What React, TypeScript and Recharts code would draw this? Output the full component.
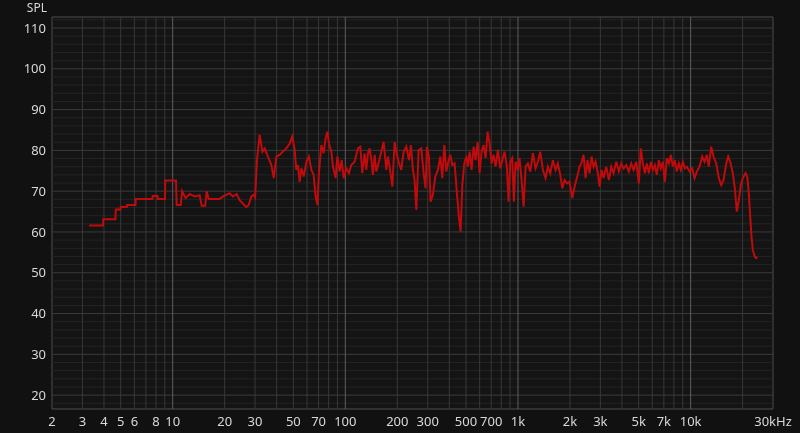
import React from "react";
import { LineChart, Line, XAxis, YAxis, ReferenceLine, ReferenceArea } from "recharts";

const freqs = [
  3.28, 3.95, 3.96, 4.66, 4.68, 4.99, 5.0, 5.43, 5.45, 6.09, 6.11, 7.64, 7.66, 8.17, 8.19, 9.03, 9.05, 10.45,
  10.55, 11.13, 11.35, 11.89, 12.54, 13.41, 14.33, 14.72, 15.43, 15.74, 16.16, 18.71, 19.56, 21.38, 22.35, 23.48,
  24.43, 26.72, 27.55, 28.56, 29.44, 30.04, 30.77, 31.89,
  33.1, 34.1, 35.6, 37.3, 38.5, 39.9, 41.6, 43.5, 45.5, 47.6, 49.3, 50.9, 52.0, 53.1, 54.4, 55.6, 57.4, 59.5,
  61.5, 63.6, 65.5, 67.3, 68.9, 70.3, 72.6, 74.9, 76.9, 78.7, 80.4, 83.0, 84.8, 87.9, 89.9, 92.7, 95.2, 97.8,
  101.3, 104.9, 108.3, 113.2, 118.3, 122.1, 125.4, 129.3, 132.3, 135.2, 138.3, 141.5, 144.5, 147.8, 151.2,
  156.5, 161.6, 166.7, 172.8, 176.5, 180.5, 187.2, 193.0, 197.4, 203.5, 211.0, 217.6, 225.6, 233.6, 239.9, 246.4,
  251.9, 257.7, 265.7, 275.5, 284.1, 291.7, 296.8, 304.9, 311.8, 321.5, 332.0, 343.8, 354.9, 364.5, 374.4,
  384.5, 394.9, 405.5, 416.5, 429.5, 442.9, 454.9, 465.3, 476.0, 488.7, 501.9, 512.8, 524.4, 538.6, 553.2,
  568.1, 583.5, 599.3, 615.5, 632.2, 649.3, 666.8, 684.9, 703.4, 722.4, 741.9, 764.9, 789.8, 811.2, 836.4,
  862.4, 882.2, 902.4, 926.8, 946.8, 968.5, 994.7, 1021, 1049, 1078, 1107, 1141, 1178, 1220, 1265, 1304, 1346,
  1394, 1445, 1490, 1538, 1593, 1651, 1702, 1758, 1806, 1861, 1919, 1990, 2063, 2127, 2193, 2273,
  2326, 2398, 2463, 2530, 2598, 2669, 2741, 2815, 2902, 2969, 3049, 3131, 3246, 3360, 3469, 3578, 3709, 3840,
  3965, 4089, 4238, 4388, 4531, 4672, 4842, 5013, 5148, 5288, 5430, 5576, 5728, 5883, 6042, 6204, 6372, 6545,
  6722, 6904, 7090, 7282, 7479, 7682, 7889, 8102, 8322, 8546, 8778, 9015, 9257, 9507, 9854, 10214, 10534,
  10862, 11259, 11672, 12035, 12410, 12745, 13160, 13570, 14067, 14565, 15040, 15508, 16075, 16510, 16956,
  17556, 18031, 18519, 19018, 19532, 20060, 20796, 21275, 21730, 22140, 22530, 22925, 23535, 23979, 24303,
];

const spl = [
  61.6, 61.6, 63.1, 63.1, 65.5, 65.5, 66.1, 66.1, 66.6, 66.6, 68.1, 68.1, 68.8, 68.8, 68.1, 68.1, 72.6, 72.6,
  66.6, 66.6, 70.0, 68.3, 69.3, 68.7, 69.0, 66.4, 66.4, 70.0, 68.1, 68.1, 68.7, 69.5, 68.7, 69.3,
  67.8, 66.1, 66.6, 68.7, 69.1, 68.5, 77.6, 83.8,
  79.7, 80.5, 78.5, 76.4, 73.2, 78.5, 78.9, 79.7, 80.5, 81.7, 83.4, 80.1, 75.2, 76.4, 72.3, 75.6, 73.6, 77.2,
  78.5, 75.2, 74.0, 68.7, 66.6, 74.4, 81.3, 79.3, 83.0, 84.6, 81.7, 79.7, 76.0, 73.2, 78.5, 74.8, 77.6, 73.2,
  75.6, 74.4, 76.4, 77.2, 80.5, 80.9, 74.4, 79.3, 75.2, 79.3, 80.5, 77.6, 74.0, 78.9, 74.8,
  77.2, 79.7, 82.1, 75.2, 78.5, 76.0, 71.1, 82.1, 79.7, 77.2, 75.2, 79.7, 80.9, 77.6, 81.3, 75.2,
  72.7, 65.4, 80.1, 80.5, 74.4, 70.7, 80.9, 78.5, 67.4, 69.1, 73.6, 75.2, 78.5, 73.2, 81.3,
  74.8, 77.2, 78.9, 76.4, 76.8, 69.5, 63.7, 60.1, 71.5, 76.8, 78.5, 76.0, 79.7, 75.2, 80.9,
  77.6, 82.1, 74.4, 79.7, 81.3, 78.1, 84.6, 81.7, 76.8, 78.9, 76.0, 80.1, 75.6, 77.6, 79.7,
  76.0, 67.4, 77.2, 78.1, 67.4, 77.2, 75.2, 78.1, 72.7, 66.2, 76.0, 76.8, 74.8, 79.3, 75.6, 77.2, 79.7,
  75.2, 73.2, 76.0, 74.4, 77.6, 75.2, 76.8, 74.0, 70.7, 72.7, 71.9, 72.3, 68.3, 71.1, 73.2, 76.0,
  76.8, 78.9, 73.2, 77.6, 74.4, 78.5, 76.0, 77.2, 74.4, 71.1, 75.2, 73.2, 76.0, 72.7, 76.0, 74.4, 77.2, 74.8,
  76.8, 75.6, 76.4, 74.8, 76.8, 75.2, 77.2, 71.9, 80.5, 76.8, 74.4, 76.8, 74.4, 77.2, 75.2, 76.4, 74.0, 77.6,
  75.6, 77.2, 72.3, 78.1, 76.8, 78.9, 76.0, 77.6, 74.8, 76.8, 75.2, 77.2, 75.6, 76.0, 74.8, 75.6, 73.2,
  74.8, 76.0, 78.5, 77.2, 78.9, 76.0, 80.9, 78.5, 76.8, 73.2, 71.5, 72.7, 76.8, 78.5, 77.2,
  74.4, 70.7, 65.0, 67.8, 71.5, 73.2, 74.4, 73.6, 69.5, 63.7, 58.8, 55.6, 53.9, 53.6, 53.9,
];

const xTicks = [2, 3, 4, 5, 6, 8, 10, 20, 30, 50, 70, 100, 200, 300, 500, 700, 1000, 2000, 3000, 5000, 7000, 10000, 30000];
const yTicks = [20, 30, 40, 50, 60, 70, 80, 90, 100, 110];
const decades = [10, 100, 1000, 10000];

const X_MIN = 2;
const X_MAX = 30000;
const Y_MIN = 16.6;
const Y_MAX = 112.7;

const data = freqs.map((f, i) => ({ f, spl: spl[i] }));

const minorY: number[] = [];
for (let v = 18; v <= 112; v += 2) if (v % 10 !== 0) minorY.push(v);

const minorX: number[] = [];
for (const d of [1, 10, 100, 1000, 10000]) {
  for (let m = 2; m <= 9; m++) {
    const v = d * m;
    if (v > X_MIN && v < X_MAX) minorX.push(v);
  }
}

const FONT = "'Noto Sans', 'Liberation Sans', sans-serif";
const TEXT = "#d8d8d8";

const fmtX = (v: number) => {
  if (v === 30000) return "30kHz";
  if (v >= 1000) return `${v / 1000}k`;
  return String(v);
};

export default function App() {
  return (
    <div style={{ position: "fixed", left: 0, top: 0, width: 800, height: 433, background: "#111111", fontFamily: FONT }}>
      <div style={{ position: "absolute", left: 0, top: 1, width: 47, textAlign: "right", fontSize: 12, lineHeight: "14px", color: TEXT }}>
        SPL
      </div>
      <LineChart width={800} height={433} data={data} margin={{ top: 17, right: 27, left: 0, bottom: 0 }}>
        <XAxis
          dataKey="f"
          type="number"
          scale="log"
          domain={[X_MIN, X_MAX]}
          allowDataOverflow
          ticks={xTicks}
          interval={0}
          tickFormatter={fmtX}
          tickLine={false}
          axisLine={false}
          height={24}
          tick={{ fill: TEXT, fontSize: 13, fontFamily: FONT }}
        />
        <YAxis
          type="number"
          domain={[Y_MIN, Y_MAX]}
          allowDataOverflow
          ticks={yTicks}
          interval={0}
          tickLine={false}
          axisLine={false}
          width={52}
          tickMargin={0}
          tick={{ fill: TEXT, fontSize: 13, fontFamily: FONT }}
        />
        <ReferenceArea x1={X_MIN} x2={X_MAX} y1={Y_MIN} y2={Y_MAX} fill="#141414" fillOpacity={1} stroke="none" />
        {minorY.map((v) => (
          <ReferenceLine key={`my${v}`} y={v} stroke="#242424" strokeWidth={1} />
        ))}
        {yTicks.map((v) => (
          <ReferenceLine key={`y${v}`} y={v} stroke="#3b3b3b" strokeWidth={1} />
        ))}
        {minorX.map((v) => (
          <ReferenceLine key={`mx${v}`} x={v} stroke="#383838" strokeWidth={1} />
        ))}
        {decades.map((v) => (
          <ReferenceLine key={`d${v}`} x={v} stroke="#5e5e5e" strokeWidth={1} />
        ))}
        <ReferenceArea x1={X_MIN} x2={X_MAX} y1={Y_MIN} y2={Y_MAX} fill="none" stroke="#4e4e4e" strokeWidth={1} />
        <Line
          type="linear"
          dataKey="spl"
          stroke="#c00a0c"
          strokeWidth={2}
          dot={false}
          activeDot={false}
          isAnimationActive={false}
        />
      </LineChart>
    </div>
  );
}
